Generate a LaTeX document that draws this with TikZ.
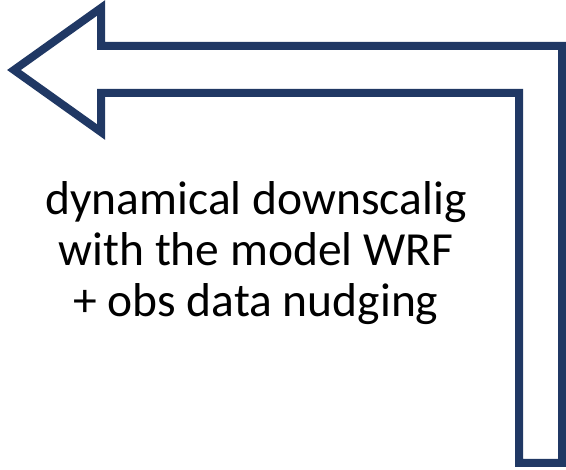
\documentclass[tikz,border=0pt]{standalone}
\usepackage{fontspec}
\setmainfont{Carlito}
\definecolor{navy}{RGB}{32,56,100}
\tikzset{bentarrow/.style={draw=navy, line width=8pt, miter limit=10, line join=miter, fill=white},
  label/.style={align=center, font=\fontsize{47.5}{51}\selectfont, text=black, inner sep=0pt}}
\begin{document}
\begin{tikzpicture}[x=1pt,y=-1pt]
\useasboundingbox (0,0) rectangle (566,470);
\fill[white] (0,0) rectangle (566,470);
\draw[bentarrow] (14,70) -- (101,8) -- (101,46) -- (562,46) -- (562,463) -- (519,463) -- (519,93) -- (101,93) -- (101,132) -- cycle;
\node[label] (t) at (256,253) {dynamical downscalig\\with the model WRF\\+ obs data nudging};
\end{tikzpicture}
\end{document}
